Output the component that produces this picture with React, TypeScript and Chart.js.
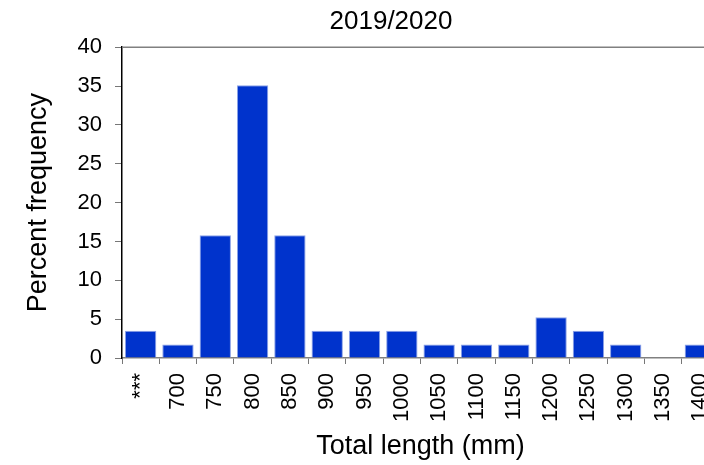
import React, { useEffect, useRef } from "react";
import { Chart, registerables } from "chart.js";

Chart.register(...registerables);

const categories: string[] = ["***", "700", "750", "800", "850", "900", "950", "1000", "1050", "1100", "1150", "1200", "1250", "1300", "1350", "1400"];
const percentFrequency: number[] = [3.51, 1.75, 15.79, 35.09, 15.79, 3.51, 3.51, 3.51, 1.75, 1.75, 1.75, 5.26, 3.51, 1.75, 0, 1.75];
const yTickMin = 0;
const yTickMax = 40;
const yTickStep = 5;
const chartTitle = "2019/2020";
const xTitle = "Total length (mm)";
const yTitle = "Percent frequency";

const FONT = "'Liberation Sans', Arial, sans-serif";

const topBorder = {
  id: "topBorder",
  afterDatasetsDraw(chart: any) {
    const { ctx, chartArea } = chart;
    ctx.save();
    ctx.strokeStyle = "#808080";
    ctx.lineWidth = 1.5;
    ctx.beginPath();
    ctx.moveTo(chartArea.left, chartArea.top);
    ctx.lineTo(chartArea.right + 5, chartArea.top);
    ctx.stroke();
    ctx.restore();
  },
};

export default function App() {
  const ref = useRef<HTMLCanvasElement>(null);
  useEffect(() => {
    document.body.style.margin = "0";
    document.body.style.overflow = "hidden";
    document.documentElement.style.overflow = "hidden";
    const chart = new Chart(ref.current!, {
      type: "bar",
      data: {
        labels: categories,
        datasets: [
          {
            data: percentFrequency,
            backgroundColor: "#0033CC",
            borderColor: "#8DA3E6",
            borderWidth: 1,
            barPercentage: 0.84,
            categoryPercentage: 1,
            yAxisID: "y",
          },
        ],
      },
      options: {
        responsive: false,
        animation: false,
        devicePixelRatio: 1,
        layout: { padding: { left: 0, right: 0, top: 0, bottom: 0 } },
        plugins: {
          legend: { display: false },
          tooltip: { enabled: false },
          title: {
            display: true,
            text: chartTitle,
            color: "#000",
            font: { family: FONT, size: 26, weight: "normal" },
            padding: { top: 6, bottom: 10 },
          },
        },
        scales: {
          x: {
            grid: {
              display: true,
              drawOnChartArea: false,
              drawTicks: true,
              tickLength: 6,
              tickColor: "#777",
              offset: true,
            },
            border: { display: true, color: "#808080", width: 1.5 },
            ticks: {
              color: "#000",
              font: { family: FONT, size: 22 },
              minRotation: 90,
              maxRotation: 90,
              autoSkip: false,
              padding: 9,
            },
            title: {
              display: true,
              text: xTitle,
              color: "#000",
              font: { family: FONT, size: 27 },
              padding: { top: 0, bottom: 2 },
            },
            afterFit(scale: any) {
              scale.height = 107;
            },
          },
          y: {
            position: "left",
            min: yTickMin,
            max: yTickMax,
            grid: {
              display: true,
              drawOnChartArea: false,
              drawTicks: true,
              tickLength: 7,
              tickColor: "#777",
            },
            border: { display: true, color: "#000", width: 1.5 },
            ticks: {
              stepSize: yTickStep,
              color: "#000",
              font: { family: FONT, size: 22 },
              padding: 13,
            },
            title: {
              display: true,
              text: yTitle,
              color: "#000",
              font: { family: FONT, size: 27 },
              padding: { top: 22, bottom: 0 },
            },
            afterFit(scale: any) {
              scale.width = 122;
            },
          },
          spacer: {
            type: "linear",
            position: "right",
            display: true,
            grid: { display: false, drawTicks: false },
            border: { display: false },
            ticks: { display: false },
            title: { display: false },
            afterFit(scale: any) {
              scale.width = 63;
            },
          },
        },
      },
      plugins: [topBorder],
    });
    return () => chart.destroy();
  }, []);
  return (
    <div style={{ position: "absolute", left: 0, top: 0, width: 704, height: 465, overflow: "hidden", background: "#fff" }}>
      <canvas ref={ref} width={782} height={465} style={{ width: 782, height: 465, display: "block" }} />
    </div>
  );
}
